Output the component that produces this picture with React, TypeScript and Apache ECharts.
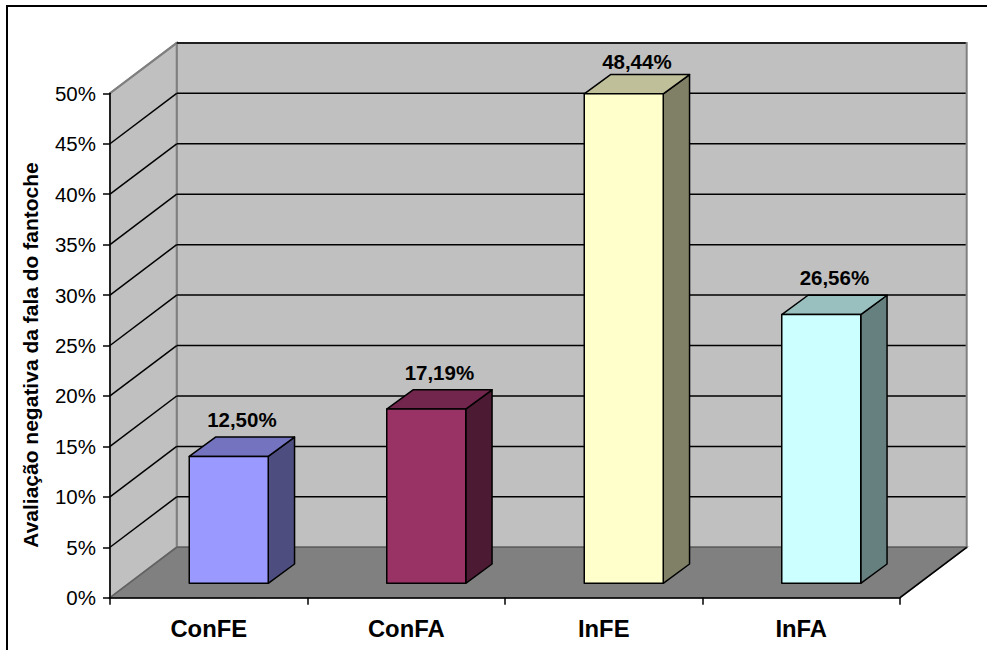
import React, { useEffect, useRef } from "react";
import * as echarts from "echarts";

const categories = ["ConFE", "ConFA", "InFE", "InFA"];
const negativeRatings = [12.5, 17.19, 48.44, 26.56];
const valueLabels = ["12,50%", "17,19%", "48,44%", "26,56%"];
const gridTicks = [5, 10, 15, 20, 25, 30, 35, 40, 45, 50];
const frontColors = ["#9999FF", "#993366", "#FFFFCC", "#CCFFFF"];
const topColors = ["#7373BF", "#73264D", "#BFBF99", "#99BFBF"];
const sideColors = ["#4D4D80", "#4D1A33", "#808066", "#668080"];
const axisTitle = "Avaliação negativa da fala do fantoche";

const FONT = '"Liberation Sans", Arial, sans-serif';
const AXIS_MAX = 50;
// Depth of the box the bars stand in, and of each bar.
const WALL_DX = 66.7;
const WALL_DY = -50.4;
const BAR_DX = 26.3;
const BAR_DY = -19.3;
const BAR_SHIFT_X = 20;
const BAR_SHIFT_BASE = -14.4;
const BAR_SHIFT_TOP = -15.2;
const WALL = "#C0C0C0";
const FLOOR = "#808080";
const EDGE = "#808080";

const renderBox = (params: any) => {
  const { x, y, width, height } = params.coordSys;
  const bottom = y + height;
  const right = x + width;
  const edge = { stroke: EDGE, lineWidth: 2 };
  return {
    type: "group",
    children: [
      {
        type: "polygon",
        shape: { points: [[x + WALL_DX, y + WALL_DY], [right + WALL_DX, y + WALL_DY], [right + WALL_DX, bottom + WALL_DY], [x + WALL_DX, bottom + WALL_DY]] },
        style: { fill: WALL, ...edge },
      },
      {
        type: "polygon",
        shape: { points: [[x, y], [x + WALL_DX, y + WALL_DY], [x + WALL_DX, bottom + WALL_DY], [x, bottom]] },
        style: { fill: WALL, ...edge },
      },
      {
        type: "polygon",
        shape: { points: [[x, bottom], [right, bottom], [right + WALL_DX, bottom + WALL_DY], [x + WALL_DX, bottom + WALL_DY]] },
        style: { fill: FLOOR, stroke: "#606060", lineWidth: 1.5 },
      },
      {
        type: "line",
        shape: { x1: right, y1: bottom, x2: right + WALL_DX, y2: bottom + WALL_DY },
        style: { stroke: "#000", lineWidth: 1.5 },
      },
    ],
  };
};

const renderGridLine = (params: any, api: any) => {
  const { x, width } = params.coordSys;
  const tick = api.value(0);
  const yy = api.coord([0, tick])[1];
  return {
    type: "group",
    children: [
      {
        type: "line",
        shape: { x1: x, y1: yy, x2: x + WALL_DX, y2: yy + WALL_DY },
        style: { stroke: tick >= AXIS_MAX ? EDGE : "#000", lineWidth: tick >= AXIS_MAX ? 2 : 1.5 },
      },
      {
        type: "line",
        shape: { x1: x + WALL_DX, y1: yy + WALL_DY, x2: x + width + WALL_DX - 1, y2: yy + WALL_DY },
        style: { stroke: "#000", lineWidth: 1.5 },
      },
    ],
  };
};

const renderBar = (params: any, api: any) => {
  const i = params.dataIndex;
  const [cx, valueY] = api.coord([api.value(0), api.value(1)]);
  const baseY = api.coord([api.value(0), 0])[1];
  const barWidth = api.size([1, 0])[0] * 0.4;
  const x0 = cx + BAR_SHIFT_X - barWidth / 2;
  const x1 = x0 + barWidth;
  const yTop = valueY + BAR_SHIFT_TOP;
  const yBase = baseY + BAR_SHIFT_BASE;
  const outline = { stroke: "#000", lineWidth: 1.5, lineJoin: "round" };
  // The value sits above the bar's back edge, kept just clear of the box's top.
  const labelY = Math.max(yTop + BAR_DY - 17.5, params.coordSys.y - 31.5);
  return {
    type: "group",
    children: [
      {
        type: "polygon",
        shape: { points: [[x1, yTop], [x1 + BAR_DX, yTop + BAR_DY], [x1 + BAR_DX, yBase + BAR_DY], [x1, yBase]] },
        style: { fill: sideColors[i], ...outline },
      },
      {
        type: "polygon",
        shape: { points: [[x0, yTop], [x0 + BAR_DX, yTop + BAR_DY], [x1 + BAR_DX, yTop + BAR_DY], [x1, yTop]] },
        style: { fill: topColors[i], ...outline },
      },
      {
        type: "rect",
        shape: { x: x0, y: yTop, width: barWidth, height: yBase - yTop },
        style: { fill: frontColors[i], ...outline },
      },
      {
        type: "text",
        style: {
          text: valueLabels[i],
          x: (x0 + x1) / 2 + BAR_DX / 2,
          y: labelY,
          align: "center",
          verticalAlign: "middle",
          fill: "#000",
          fontFamily: FONT,
          fontSize: 20.5,
          fontWeight: "bold",
        },
      },
    ],
  };
};

export default function App() {
  const ref = useRef<HTMLDivElement>(null);

  useEffect(() => {
    const chart = echarts.init(ref.current, undefined, { renderer: "svg" });
    chart.setOption({
      animation: false,
      backgroundColor: "#fff",
      grid: { left: 110, right: 87, top: 93.3, bottom: 52.3 },
      xAxis: {
        type: "category",
        data: categories,
        z: 5,
        axisLine: { lineStyle: { color: "#000", width: 1.5 } },
        axisTick: { show: true, length: 7, lineStyle: { color: "#000", width: 1.5 } },
        axisLabel: { color: "#000", fontFamily: FONT, fontSize: 23.8, fontWeight: "bold", margin: 19 },
      },
      yAxis: {
        type: "value",
        min: 0,
        max: AXIS_MAX,
        interval: 5,
        z: 5,
        splitLine: { show: false },
        axisLine: { show: true, lineStyle: { color: "#000", width: 1.5 } },
        axisTick: { show: true, length: 7, lineStyle: { color: "#000", width: 1.5 } },
        axisLabel: { color: "#000", fontFamily: FONT, fontSize: 20.5, margin: 14, formatter: "{value}%" },
      },
      graphic: [
        {
          type: "polyline",
          silent: true,
          shape: { points: [[7, 660], [7, 6], [997, 6]] },
          style: { stroke: "#000", lineWidth: 2, fill: "none" },
        },
        {
          type: "text",
          x: 30.5,
          y: 355,
          rotation: Math.PI / 2,
          style: {
            text: axisTitle,
            align: "center",
            verticalAlign: "middle",
            fill: "#000",
            fontFamily: FONT,
            fontSize: 21,
            fontWeight: "bold",
          },
        },
      ],
      series: [
        { type: "custom", z: 1, clip: false, silent: true, data: [[0]], renderItem: renderBox, encode: { y: 0 } },
        { type: "custom", z: 2, clip: false, silent: true, data: gridTicks.map((t) => [t]), renderItem: renderGridLine, encode: { y: 0 } },
        {
          type: "custom",
          z: 3,
          clip: false,
          silent: true,
          data: categories.map((_, i) => [i, negativeRatings[i]]),
          renderItem: renderBar,
          encode: { x: 0, y: 1 },
        },
      ],
    });
    return () => chart.dispose();
  }, []);

  return <div ref={ref} style={{ position: "absolute", left: 0, top: 0, width: 987, height: 650 }} />;
}
